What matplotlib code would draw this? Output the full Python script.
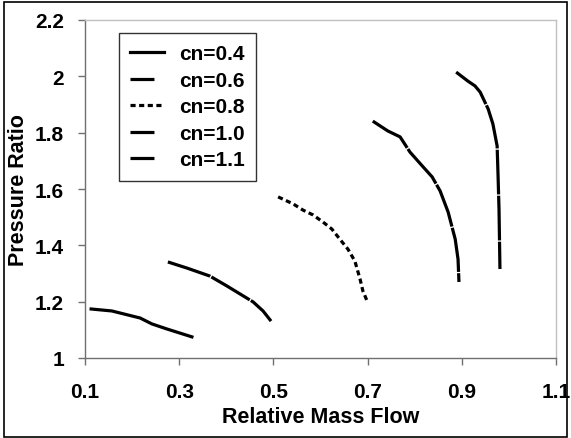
import matplotlib
matplotlib.use("Agg")
import matplotlib.pyplot as plt
from matplotlib.lines import Line2D
from matplotlib.patches import Rectangle

plt.rcParams['font.family'] = ['Liberation Sans', 'DejaVu Sans']
plt.rcParams['font.weight'] = 'bold'

labels = ["cn=0.4", "cn=0.6", "cn=0.8", "cn=1.0", "cn=1.1"]

x_04 = [0.113, 0.157, 0.217, 0.242, 0.274, 0.327]
y_04 = [1.174, 1.167, 1.142, 1.121, 1.103, 1.075]

x_06 = [0.276, 0.317, 0.365, 0.401, 0.457, 0.478, 0.495]
y_06 = [1.341, 1.319, 1.291, 1.256, 1.199, 1.167, 1.131]

x_08 = [0.510, 0.542, 0.563, 0.584, 0.605, 0.624, 0.641, 0.658, 0.673, 0.684, 0.690, 0.699]
y_08 = [1.572, 1.547, 1.525, 1.508, 1.483, 1.458, 1.422, 1.387, 1.344, 1.280, 1.238, 1.202]

x_10 = [0.711, 0.743, 0.769, 0.790, 0.816, 0.837, 0.854, 0.871, 0.886, 0.892, 0.894]
y_10 = [1.841, 1.806, 1.785, 1.731, 1.682, 1.643, 1.593, 1.518, 1.422, 1.351, 1.270]

x_11 = [0.888, 0.913, 0.928, 0.939, 0.956, 0.966, 0.975, 0.977, 0.979, 0.981]
y_11 = [2.015, 1.983, 1.966, 1.944, 1.884, 1.831, 1.753, 1.646, 1.529, 1.316]

x_ticks = [0.1, 0.3, 0.5, 0.7, 0.9, 1.1]
y_ticks = [1.0, 1.2, 1.4, 1.6, 1.8, 2.0, 2.2]
y_tick_labels = ["1", "1.2", "1.4", "1.6", "1.8", "2", "2.2"]

fig = plt.figure(figsize=(5.71, 4.39), dpi=100)
ax = fig.add_axes([85/571, 1 - 359/439, (556-85)/571, (359-21)/439])

lw = 2.3
long_dash = (0, (14, 0.4))
ax.plot(x_04, y_04, color='black', lw=lw)
ax.plot(x_06, y_06, color='black', lw=lw, linestyle=long_dash)
ax.plot(x_08, y_08, color='black', lw=lw, linestyle=(0, (1.6, 1.1)))
ax.plot(x_10, y_10, color='black', lw=lw, linestyle=long_dash)
ax.plot(x_11, y_11, color='black', lw=lw, linestyle=long_dash)

ax.set_xlim(0.1, 1.1)
ax.set_ylim(1.0, 2.2)
ax.set_xticks(x_ticks)
ax.set_xticklabels([f"{v:g}" for v in x_ticks], fontweight='bold', fontsize=15)
ax.set_yticks(y_ticks)
ax.set_yticklabels(y_tick_labels, fontweight='bold', fontsize=15)
ax.tick_params(direction='out', length=5, width=1, color='#707070')
ax.tick_params(axis='x', pad=12)
ax.tick_params(axis='y', pad=10)
for s in ['left', 'bottom']:
    ax.spines[s].set_color('#707070')
    ax.spines[s].set_linewidth(1.0)
for s in ['top', 'right']:
    ax.spines[s].set_color('#c0c0c0')
    ax.spines[s].set_linewidth(1.0)

ax.set_xlabel("Relative Mass Flow", fontsize=15.5, fontweight='bold', labelpad=4)
ax.set_ylabel("Pressure Ratio", fontsize=15.5, fontweight='bold', labelpad=4)

handles = [
    Line2D([], [], color='black', lw=lw),
    Line2D([], [], color='black', lw=lw, linestyle=(0, (7.5, 20))),
    Line2D([], [], color='black', lw=lw, linestyle=(0, (1.6, 1.1))),
    Line2D([], [], color='black', lw=lw, linestyle=(0, (7.5, 20))),
    Line2D([], [], color='black', lw=lw, linestyle=(0, (7.5, 20))),
]
leg = ax.legend(handles, labels, loc='upper left', bbox_to_anchor=((119-85)/471, 1 - (34-21)/338),
                frameon=True, fancybox=False, edgecolor='black',
                prop={'size': 15, 'weight': 'bold'},
                handlelength=1.6, handletextpad=0.72, labelspacing=0.36, borderpad=0.55,
                borderaxespad=0)
leg.get_frame().set_linewidth(1.0)

fig.patches.append(Rectangle((4/571, 1/439), 563/571, 435/439, transform=fig.transFigure,
                             fill=False, edgecolor='black', linewidth=1.2))

fig.savefig("out.png", dpi=100)
